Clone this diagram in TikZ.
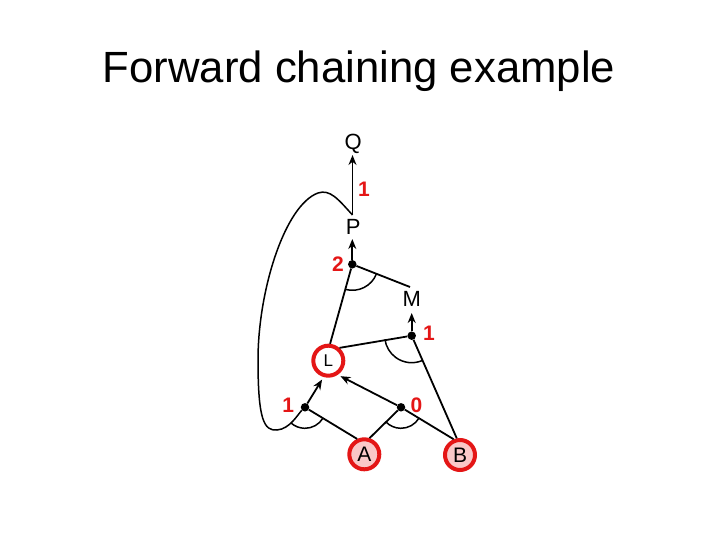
\documentclass[tikz,border=0pt]{standalone}
\usepackage{fontspec}
\setmainfont{Liberation Sans}
\usetikzlibrary{arrows.meta}
\definecolor{fcred}{RGB}{228,22,22}
\definecolor{fcpink}{RGB}{250,200,200}
\tikzset{
  sym/.style={inner sep=1pt, font=\fontsize{22}{22}\selectfont},
  num/.style={inner sep=0pt, text=fcred, font=\fontsize{21}{21}\selectfont\bfseries},
  fact/.style={circle, draw=fcred, line width=4pt, minimum size=30pt, inner sep=0pt, font=\fontsize{21}{21}\selectfont},
  jdot/.style={circle, fill=black, inner sep=0pt, minimum size=8.5pt},
  edge/.style={line width=1.8pt},
  arr/.style={line width=1.8pt, -{Stealth[length=10pt,width=8pt]}},
  andarc/.style={line width=1.5pt}
}
\begin{document}
\begin{tikzpicture}[x=1pt,y=-1pt]
\useasboundingbox[fill=white] (0,0) rectangle (720,540);
\node[anchor=base, inner sep=0pt, font=\fontsize{43.7}{50}\selectfont] (title) at (359,82.5) {Forward chaining example};

% symbols
\node[sym] (Q) at (353.3,144) {Q};
\node[sym] (P) at (353.3,227) {P};
\node[sym] (M) at (411.7,299) {M};
\node[fact, fill=white, font=\fontsize{17}{17}\selectfont] (L) at (328.3,360.7) {L};
\node[fact, fill=fcpink] (A) at (364.3,454.3) {A};
\node[fact, fill=fcpink] (B) at (460,455) {B};

% junctions
\node[jdot] (j2) at (352.3,264.3) {};
\node[jdot] (m1) at (411.7,335.7) {};
\node[jdot] (j1) at (305,407.3) {};
\node[jdot] (j0) at (401,407.3) {};

\coordinate (ptop) at (352.5,215);
\coordinate (qbot) at (352.5,155);
\coordinate (pbot) at (352.3,239);
\coordinate (mbot) at (411.7,313);
\coordinate (mtop) at (410,287);
\coordinate (peak) at (318,193);
\coordinate (lside) at (258,360);
\coordinate (lbot) at (277,430);

% arrows
\draw[arr] (ptop) -- (qbot);
\draw[arr] (j2) -- (pbot);
\draw[arr] (m1) -- (mbot);
\draw[arr, shorten >=3pt] (j1) -- (L.254);
\draw[arr, shorten >=3pt] (j0) -- (L.304);

% premise lines
\draw[edge] (j2) -- (mtop);
\draw[edge] (j2) -- (L.84);
\draw[edge] (m1) -- (L.49);
\draw[edge] (m1) -- (B.101);
\draw[edge] (j1) -- (A.115);
\draw[edge] (j0) -- (A.72);
\draw[edge] (j0) -- (B.112);

% loop from P to junction 1
\draw[andarc] (ptop) .. controls (338,199) and (330,189) .. (peak)
  .. controls (285,205) and (258,290) .. (lside)
  .. controls (258,420) and (264,431) .. (lbot)
  .. controls (290,429) and (298,414) .. (j1);

% and-arcs
\draw[andarc] (j2) ++(21.6:26) arc[start angle=21.6, end angle=104.5, radius=26];
\draw[andarc] (m1) ++(66.3:27) arc[start angle=66.3, end angle=172.4, radius=27];
\draw[andarc] (j1) ++(31:21) arc[start angle=31, end angle=132, radius=21];
\draw[andarc] (j0) ++(30.8:21) arc[start angle=30.8, end angle=136, radius=21];

% labels
\node[num] (n1) at (364,189) {1};
\node[num] (n2) at (338,264) {2};
\node[num] (n3) at (429,333) {1};
\node[num] (n4) at (288.3,405) {1};
\node[num] (n5) at (416.5,405.5) {0};
\end{tikzpicture}
\end{document}
